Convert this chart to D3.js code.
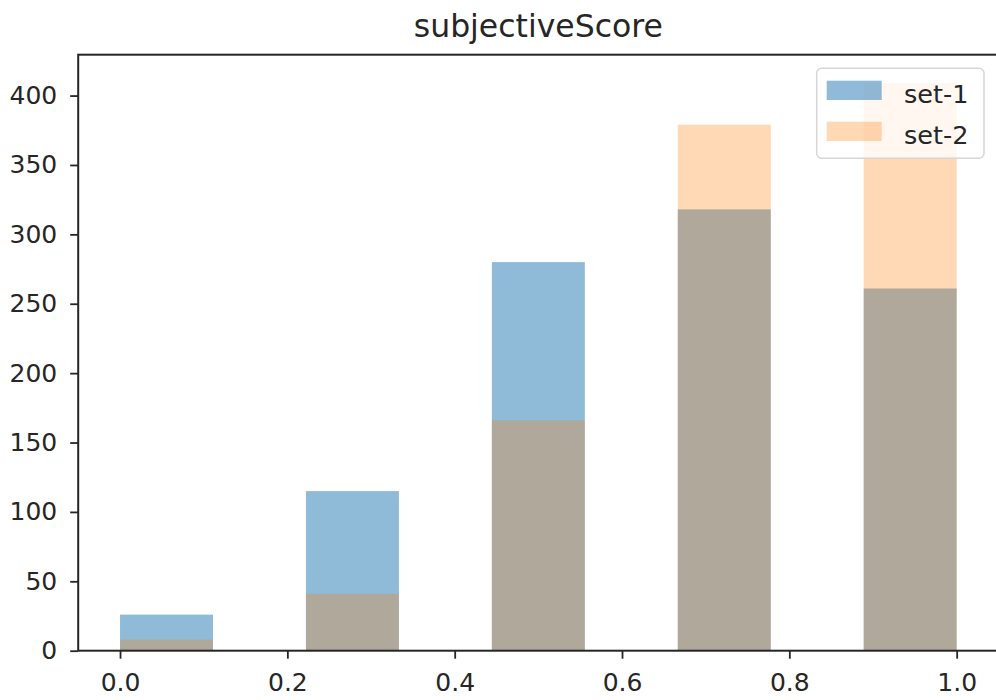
<!DOCTYPE html>
<html>
<head>
<meta charset="utf-8">
<script src="https://cdn.jsdelivr.net/npm/d3@7"></script>
<style>
  html, body { margin: 0; padding: 0; background: #fff; }
  svg { display: block; }
  text { font-family: "DejaVu Sans", sans-serif; fill: #262626; }
</style>
</head>
<body>
<div id="chart"></div>
<script>
// Histogram of subjectiveScore: 9 equal bins over [0, 1]
const binCount = 9;
const binStarts = d3.range(binCount).map(i => i / binCount);
const set1Counts = [26, 0, 115, 0, 280, 0, 318, 0, 261];
const set2Counts = [8, 0, 41, 0, 166, 0, 379, 0, 409];
const seriesNames = ["set-1", "set-2"];
const xTicks = [0.0, 0.2, 0.4, 0.6, 0.8, 1.0];
const yTicks = [0, 50, 100, 150, 200, 250, 300, 350, 400];
const title = "subjectiveScore";

const W = 996, H = 700;
const plot = { left: 78.2, right: 998.5, top: 54.7, bottom: 650.7 };
const colors = ["#1f77b4", "#ff7f0e"];
const alphas = [0.5, 0.3];

const svg = d3.select("#chart").append("svg")
  .attr("width", W).attr("height", H);

const maxCount = d3.max(set1Counts.concat(set2Counts));
const x = d3.scaleLinear().domain([-0.05, 1.05]).range([plot.left, plot.right]);
const y = d3.scaleLinear().domain([0, maxCount * 1.05]).range([plot.bottom, plot.top]);

const binW = 1 / binCount;
const series = [set1Counts, set2Counts];

series.forEach((counts, s) => {
  svg.append("g")
    .selectAll("rect")
    .data(binStarts.map((b, i) => ({ b, v: counts[i] })).filter(d => d.v > 0))
    .join("rect")
    .attr("x", d => x(d.b))
    .attr("width", d => x(d.b + binW) - x(d.b))
    .attr("y", d => y(d.v))
    .attr("height", d => y(0) - y(d.v))
    .attr("fill", colors[s])
    .attr("fill-opacity", alphas[s]);
});

// Axes
const tickLen = 8;
const xAxis = svg.append("g")
  .attr("transform", `translate(0,${plot.bottom})`)
  .call(d3.axisBottom(x).tickValues(xTicks).tickFormat(d3.format(".1f"))
    .tickSizeInner(tickLen).tickSizeOuter(0).tickPadding(15));
const yAxis = svg.append("g")
  .attr("transform", `translate(${plot.left},0)`)
  .call(d3.axisLeft(y).tickValues(yTicks).tickFormat(d3.format("d"))
    .tickSizeInner(tickLen).tickSizeOuter(0).tickPadding(13));

[xAxis, yAxis].forEach(a => {
  a.select(".domain").remove();
  a.selectAll(".tick line").attr("stroke", "#262626").attr("stroke-width", 1.8);
  a.selectAll(".tick text").attr("font-size", 25).attr("fill", "#303030")
    .style("font-family", "'DejaVu Sans', sans-serif");
});

// Spines
svg.append("rect")
  .attr("x", plot.left).attr("y", plot.top)
  .attr("width", plot.right - plot.left).attr("height", plot.bottom - plot.top)
  .attr("fill", "none").attr("stroke", "#262626").attr("stroke-width", 2);

// Title
svg.append("text")
  .attr("x", (plot.left + plot.right) / 2)
  .attr("y", 37)
  .attr("text-anchor", "middle")
  .attr("font-size", 31.5)
  .attr("fill", "#303030")
  .text(title);

// Legend
const lg = svg.append("g").attr("transform", "translate(816.7,68.3)");
lg.append("rect")
  .attr("width", 167.3).attr("height", 90)
  .attr("rx", 5).attr("ry", 5)
  .attr("fill", "#fff").attr("fill-opacity", 0.8)
  .attr("stroke", "#d6d6d6").attr("stroke-width", 1.5);
seriesNames.forEach((name, i) => {
  const row = lg.append("g").attr("transform", `translate(10,${12.4 + i * 41})`);
  row.append("rect")
    .attr("width", 55).attr("height", 19.3)
    .attr("fill", colors[i]).attr("fill-opacity", alphas[i]);
  row.append("text")
    .attr("x", 77.3).attr("y", 22)
    .attr("font-size", 25.5)
    .attr("fill", "#303030")
    .text(name);
});
</script>
</body>
</html>
